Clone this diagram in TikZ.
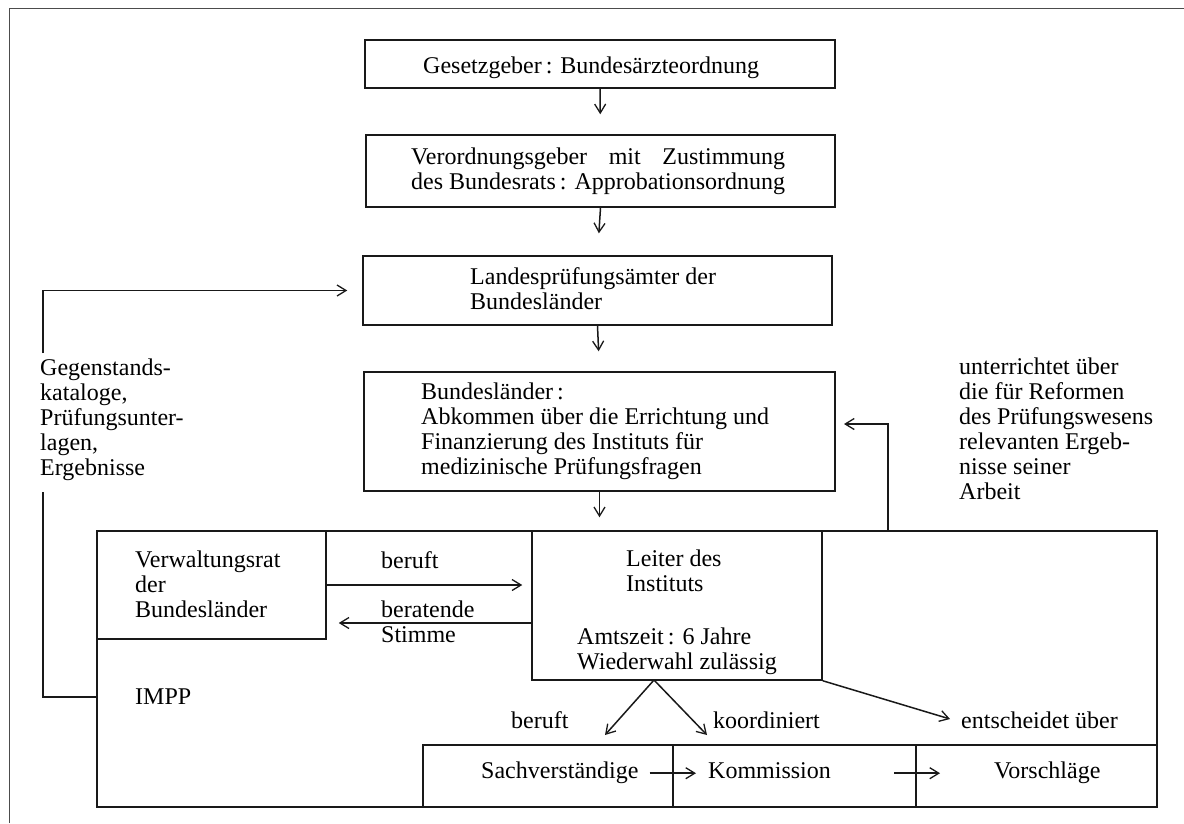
\documentclass[tikz,border=0pt]{standalone}
\usepackage{fontspec}
\setmainfont{Liberation Serif}
\usetikzlibrary{arrows.meta}
\newlength\mylen
\newcommand\fs{\fontsize{24}{25}\selectfont}
\begin{document}
\begin{tikzpicture}[x=1pt,y=-1pt,
  ln/.style={line width=1.5pt, draw=black!90},
  box/.style={ln, rectangle, inner sep=0pt},
  arr/.style={ln, -{Straight Barb[length=9pt,width=11pt,line width=1.3pt]}},
  txt/.style={font=\fs, inner sep=0pt, align=left, anchor=north west, execute at begin node=\strut, text=black}]
\useasboundingbox (0,0) rectangle (1184,823);
% frame
\draw[line width=1pt, draw=black!70] (9,823) -- (9,8) -- (1184,8);
% boxes
\node[box, minimum width=470pt, minimum height=48pt] (b1) at (600,64) {};
\node[box, minimum width=469pt, minimum height=72pt] (b2) at (600.5,171) {};
\node[box, minimum width=469pt, minimum height=69pt] (b3) at (597.5,290.5) {};
\node[box, minimum width=471pt, minimum height=119pt] (b4) at (599.5,431.5) {};
\node[box, minimum width=1060pt, minimum height=276pt] (impp) at (627,669) {};
\node[box, minimum width=229pt, minimum height=108pt] (vr) at (211.5,585) {};
\node[box, minimum width=290pt, minimum height=149pt] (leiter) at (677,605.5) {};
\node[box, minimum width=250pt, minimum height=62pt] (sv) at (548,776) {};
\node[box, minimum width=243pt, minimum height=62pt] (ko) at (794.5,776) {};
\node[box, minimum width=241pt, minimum height=62pt] (vo) at (1036.5,776) {};
% texts
\node[txt] (t1) at (423,55.5) {Gesetzgeber\,: Bundesärzteordnung};
\node[txt] (t2) at (411,147.5) {\settowidth{\mylen}{des Bundesrats\,: Approbationsordnung}\makebox[\mylen][s]{Verordnungsgeber mit Zustimmung}\\des Bundesrats\,: Approbationsordnung};
\node[txt] (t3) at (470,267.5) {Landesprüfungsämter der\\Bundesländer};
\node[txt] (t4) at (421,382.5) {Bundesländer\,:\\Abkommen über die Errichtung und\\Finanzierung des Instituts für\\medizinische Prüfungsfragen};
\node[txt] (gl) at (40,358.5) {Gegenstands-\\kataloge,\\Prüfungsunter-\\lagen,\\Ergebnisse};
\node[txt] (rl) at (959,357.5) {unterrichtet über\\die für Reformen\\des Prüfungswesens\\relevanten Ergeb-\\nisse seiner\\Arbeit};
\node[txt] (vrt) at (135,550.5) {Verwaltungsrat\\der\\Bundesländer};
\node[txt] (imppt) at (135,686.5) {IMPP};
\node[txt] (ber1) at (381,550.5) {beruft};
\node[txt] (bst) at (381,600.5) {beratende\\Stimme};
\node[txt] (lt1) at (626,549.5) {Leiter des\\Instituts};
\node[txt] (lt2) at (577,627.5) {Amtszeit\,: 6 Jahre\\Wiederwahl zulässig};
\node[txt] (ber2) at (511,710.5) {beruft};
\node[txt] (koo) at (713,710.5) {koordiniert};
\node[txt] (ent) at (961,710.5) {entscheidet über};
\node[txt] (svt) at (481,760.5) {Sachverständige};
\node[txt] (kot) at (708,760.5) {Kommission};
\node[txt] (vot) at (994,760.5) {Vorschläge};
% coordinates
\coordinate (fl) at (97,697);
\coordinate (glb) at (43,492);
\coordinate (glt) at (43,353);
\coordinate (rf) at (888,531);
\coordinate (rfe) at (844,424);
\coordinate (bs) at (532,623);
\coordinate (lb) at (654,680);
\coordinate (lbl) at (605,735);
\coordinate (lbr) at (707,735);
\coordinate (ene) at (950,719);
% vertical chain
\draw[arr, shorten >=20pt] (b1.south) -- (b2.north);
\draw[arr, shorten >=22pt] (b2.south) -- (b3.north);
\draw[arr, shorten >=20pt] (b3.south) -- (b4.north);
\draw[arr, shorten >=13pt] (b4.south) -- (b4.south |- impp.north);
% feedback left
\draw[ln] (fl) -| (glb);
\draw[arr, shorten >=15pt] (glt) |- (b3.west);
% feedback right
\draw[arr] (rf) |- (rfe);
% Verwaltungsrat <-> Leiter
\draw[arr, shorten >=9pt] (vr.east) -- (vr.east -| leiter.west);
\draw[arr, shorten >=12pt] (bs) -- (bs -| vr.east);
% from Leiter
\draw[arr] (lb) -- (lbl);
\draw[arr] (lb) -- (lbr);
\draw[arr] (leiter.south east) -- (ene);
% bottom row
\draw[arr, shorten <=11pt, shorten >=12pt] (svt.east) -- (kot.west);
\draw[arr, shorten <=63pt, shorten >=54pt] (kot.east) -- (vot.west);
\end{tikzpicture}
\end{document}
